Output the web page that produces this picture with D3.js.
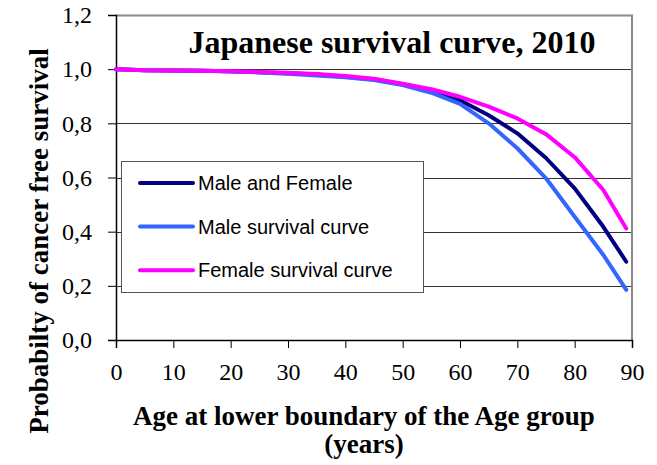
<!DOCTYPE html>
<html>
<head>
<meta charset="utf-8">
<script src="https://cdn.jsdelivr.net/npm/d3@7"></script>
<style>
  body { margin: 0; background: #fff; }
  svg { display: block; }
</style>
</head>
<body>
<div id="chart"></div>
<script>
// data
const ages = [0, 5, 10, 15, 20, 25, 30, 35, 40, 45, 50, 55, 60, 65, 70, 75, 80, 85, 89];
const maleFemale = [1.000, 0.996, 0.995, 0.994, 0.992, 0.989, 0.985, 0.980, 0.972, 0.962, 0.944, 0.920, 0.885, 0.830, 0.763, 0.672, 0.560, 0.418, 0.289];
const male = [1.000, 0.996, 0.995, 0.994, 0.991, 0.988, 0.983, 0.977, 0.970, 0.960, 0.941, 0.913, 0.872, 0.800, 0.708, 0.597, 0.455, 0.314, 0.185];
const female = [1.000, 0.996, 0.995, 0.994, 0.992, 0.990, 0.987, 0.982, 0.975, 0.965, 0.946, 0.926, 0.898, 0.862, 0.818, 0.760, 0.675, 0.554, 0.412];
const seriesNames = ["Male and Female", "Male survival curve", "Female survival curve"];
const seriesColors = ["#000080", "#3366ff", "#ff00ff"];
const xTicks = [0, 10, 20, 30, 40, 50, 60, 70, 80, 90];
const yTicks = [0, 0.2, 0.4, 0.6, 0.8, 1.0, 1.2];

const W = 657, H = 465;
const margin = {top: 15, right: 25, bottom: 125, left: 116},
  width = W - margin.left - margin.right,
  height = H - margin.top - margin.bottom;

const serif = "'Liberation Serif', 'Times New Roman', serif";
const sans = "'Liberation Sans', Arial, sans-serif";

const svg = d3.select("#chart").append("svg")
  .attr("width", W)
  .attr("height", H);

const g = svg.append("g")
  .attr("transform", `translate(${margin.left},${margin.top})`);

const x = d3.scaleLinear().domain([0, 90]).range([0, width]);
const y = d3.scaleLinear().domain([0, 1.2]).range([height, 0]);

// gridlines
g.append("g")
  .selectAll("line")
  .data(yTicks.filter(d => d > 0 && d < 1.2))
  .enter().append("line")
  .attr("x1", 0).attr("x2", width)
  .attr("y1", d => Math.round(y(d)) + 0.5)
  .attr("y2", d => Math.round(y(d)) + 0.5)
  .attr("stroke", "#333")
  .attr("stroke-width", 1);

// plot frame (top and right in gray)
g.append("path")
  .attr("d", `M0,0.5H${width}V${height}`)
  .attr("fill", "none")
  .attr("stroke", "#888")
  .attr("stroke-width", 2);

// axes
const fmt = d => d3.format(".1f")(d).replace(".", ",");
const yAxis = g.append("g")
  .call(d3.axisLeft(y).tickValues(yTicks).tickFormat(fmt).tickSize(8).tickPadding(16));
yAxis.select(".domain").attr("stroke", "#000").attr("stroke-width", 1.5);
yAxis.selectAll(".tick line").attr("stroke", "#000");
yAxis.selectAll("text")
  .style("font-family", serif)
  .style("font-size", "24px")
  .attr("fill", "#000");

const xAxis = g.append("g")
  .attr("transform", `translate(0,${height})`)
  .call(d3.axisBottom(x).tickValues(xTicks).tickSize(8).tickPadding(15));
xAxis.select(".domain").attr("stroke", "#000").attr("stroke-width", 1.5);
xAxis.selectAll(".tick line").attr("stroke", "#000");
xAxis.selectAll("text")
  .style("font-family", serif)
  .style("font-size", "24px")
  .attr("fill", "#000");

// lines
const series = [maleFemale, male, female];
const line = d3.line()
  .x((d, i) => x(ages[i]))
  .y(d => y(d));

// combined first, then male, female on top
series.forEach((s, k) => {
  g.append("path")
    .datum(s)
    .attr("fill", "none")
    .attr("stroke", seriesColors[k])
    .attr("stroke-width", 4)
    .attr("stroke-linejoin", "round")
    .attr("stroke-linecap", "round")
    .attr("d", line);
});

// title
g.append("text")
  .attr("x", 276)
  .attr("y", 38)
  .attr("text-anchor", "middle")
  .style("font-family", serif)
  .style("font-weight", "bold")
  .style("font-size", "32px")
  .text("Japanese survival curve, 2010");

// legend
const legend = svg.append("g").attr("transform", "translate(121,161)");
legend.append("rect")
  .attr("x", 0.5).attr("y", 0.5)
  .attr("width", 302).attr("height", 131)
  .attr("fill", "#fff")
  .attr("stroke", "#555");
seriesNames.forEach((name, i) => {
  const ly = 22 + i * 43.6;
  legend.append("line")
    .attr("x1", 19).attr("x2", 72)
    .attr("y1", ly).attr("y2", ly)
    .attr("stroke", seriesColors[i])
    .attr("stroke-width", 4)
    .attr("stroke-linecap", "round");
  legend.append("text")
    .attr("x", 77)
    .attr("y", ly + 7)
    .style("font-family", sans)
    .style("font-size", "20px")
    .text(name);
});

// axis titles
svg.append("text")
  .attr("transform", "translate(48,241) rotate(-90)")
  .attr("text-anchor", "middle")
  .style("font-family", serif)
  .style("font-weight", "bold")
  .style("font-size", "27px")
  .text("Probabilty of cancer free survival");

const xt = svg.append("text")
  .attr("text-anchor", "middle")
  .style("font-family", serif)
  .style("font-weight", "bold")
  .style("font-size", "27px");
xt.append("tspan").attr("x", 364).attr("y", 425).text("Age at lower boundary of the Age group");
xt.append("tspan").attr("x", 364).attr("y", 453).text("(years)");
</script>
</body>
</html>
